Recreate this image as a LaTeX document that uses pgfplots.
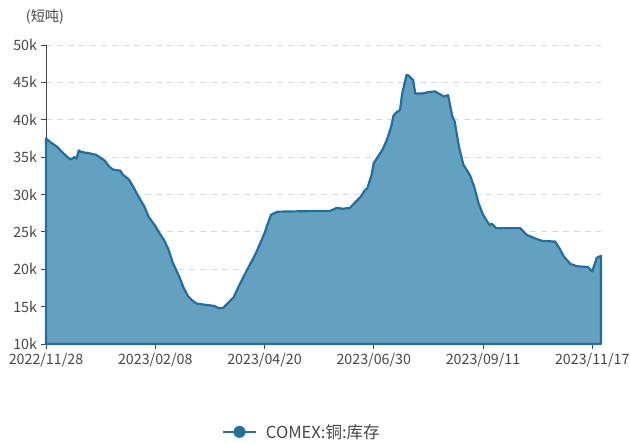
\documentclass[border=0pt]{standalone}
\usepackage{fontspec}
\setmainfont{Noto Sans CJK SC}
\usepackage{pgfplots}
\pgfplotsset{compat=1.18}
\definecolor{fillc}{RGB}{100,160,192}
\definecolor{linec}{RGB}{35,110,155}
\definecolor{gridc}{RGB}{215,215,215}
\definecolor{axc}{RGB}{70,70,70}
\definecolor{txt}{RGB}{70,70,70}
\begin{document}
\begin{tikzpicture}
\begin{axis}[name=ax, scale only axis, width=555bp, height=299bp,
  xmin=0, xmax=254, ymin=10000, ymax=50000,
  xtick={0,50,100,150,200,250},
  xticklabels={2022/11/28,2023/02/08,2023/04/20,2023/06/30,2023/09/11,2023/11/17},
  ytick={10000,15000,20000,25000,30000,35000,40000,45000,50000},
  yticklabels={10k,15k,20k,25k,30k,35k,40k,45k,50k},
  scaled y ticks=false,
  axis x line*=bottom, axis y line*=left,
  ymajorgrids, grid style={gridc, line width=0.8bp, dash pattern=on 6bp off 5bp},
  tick align=outside, major tick length=5bp,
  tick style={axc, line width=0.8bp}, axis line style={axc, line width=0.8bp},
  ticklabel style={font=\fontsize{14.3}{14.3}\selectfont, text=txt},
  xticklabel style={yshift=-0.5bp},
  yticklabel style={xshift=-0.5bp},
  legend style={at={(0.461,-0.294)}, anchor=center, draw=none, fill=none,
    font=\fontsize{16.6}{16.6}\selectfont, text=txt, inner sep=0pt,
    /tikz/every even column/.append style={column sep=0pt}},
  legend cell align=left,
  clip=false,
]
\addplot[fill=fillc, draw=linec, line width=2.2bp, line join=round, forget plot] coordinates {
(0,37500)(2,37000)(5,36400)(8,35500)(11,34700)(12,34800)(13,35000)(14,34800)(15,35900)(16,35700)
(20,35500)(23,35300)(25,34900)(27,34500)(29,33700)(31,33300)(34,33200)(35,32700)(38,32000)(40,31000)
(42,29900)(45,28400)(47,27000)(50,25800)(52,24800)(54,23900)(56,22700)(58,20900)(61,19000)(63,17500)
(65,16400)(67,15800)(69,15400)(74,15200)(77,15100)(79,14800)(81,14800)(83,15400)(86,16300)(88,17600)
(92,19900)(96,22100)(100,24800)(101,25700)(103,27300)(106,27700)(126,27800)(130,27800)(133,28200)(136,28100)
(139,28200)(141,28800)(144,29700)(146,30600)(147,30800)(149,32600)(150,34200)(152,35100)(154,36000)(156,37300)
(158,39100)(159,40500)(160,40900)(162,41300)(163,43500)(165,46000)(166,45900)(168,45300)(169,43500)(172,43500)
(175,43700)(178,43800)(181,43300)(182,43100)(184,43300)(186,40400)(187,39800)(189,36400)(191,34000)(194,32600)
(196,31000)(198,28800)(200,27300)(203,25900)(204,26100)(206,25500)(217,25500)(220,24600)(224,24100)(227,23800)
(233,23700)(235,22800)(237,21700)(240,20700)(243,20400)(248,20300)(250,19700)(252,21500)(254,21800)
} \closedcycle;
\addlegendimage{legend image code/.code={
  \draw[linec, line width=2bp, solid] (0bp,0bp) -- (33bp,0bp);
  \fill[linec, draw=none] (16.5bp,0bp) circle (6bp);
  \path[draw=none, fill=none] (0bp,-6bp) rectangle (41bp,6bp);}}
\addlegendentry{COMEX:铜:库存}
\coordinate (bl) at (rel axis cs:0,0);
\coordinate (tr) at (rel axis cs:1,1);
\coordinate (tl) at (rel axis cs:0,1);
\end{axis}
\node[text=txt, font=\fontsize{14.3}{14.3}\selectfont] at ([xshift=-1bp,yshift=28.5bp]tl) {(短吨)};
\pgfresetboundingbox
\path ([xshift=-46bp,yshift=-99bp]bl) rectangle ([xshift=29bp,yshift=45bp]tr);
\end{tikzpicture}
\end{document}
